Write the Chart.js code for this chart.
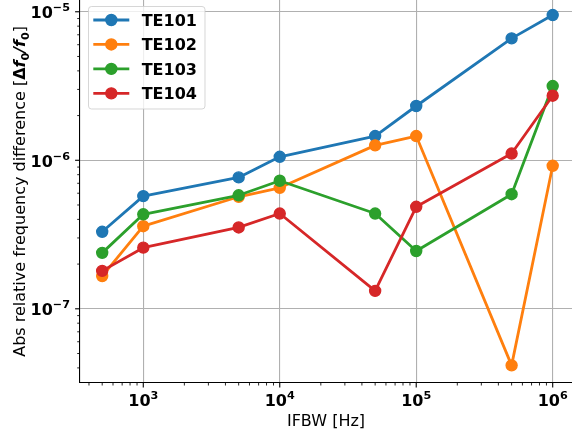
<!DOCTYPE html>
<html>
<head>
<meta charset="utf-8">
<title>Relative frequency difference vs IFBW</title>
<script src="https://cdn.jsdelivr.net/npm/chart.js@4.4.1/dist/chart.umd.min.js"></script>
<style>
  html, body { margin: 0; padding: 0; background: #fff; overflow: hidden; }
  #wrap { position: relative; width: 572px; height: 438px; }
</style>
</head>
<body>
<div id="wrap"><canvas id="freqChart" width="572" height="438"></canvas></div>
<script>
// IFBW settings in Hz
const ifbw = [500, 1000, 5000, 10000, 50000, 100000, 500000, 1000000];

// abs relative frequency difference per mode
const te101 = [3.30e-7, 5.74e-7, 7.67e-7, 1.056e-6, 1.456e-6, 2.32e-6, 6.62e-6, 9.5e-6];
const te102 = [1.66e-7, 3.60e-7, 5.68e-7, 6.53e-7, 1.26e-6, 1.456e-6, 4.16e-8, 9.18e-7];
const te103 = [2.38e-7, 4.33e-7, 5.81e-7, 7.28e-7, 4.38e-7, 2.45e-7, 5.91e-7, 3.16e-6];
const te104 = [1.80e-7, 2.58e-7, 3.53e-7, 4.38e-7, 1.32e-7, 4.86e-7, 1.11e-6, 2.72e-6];

const seriesNames = ['TE101', 'TE102', 'TE103', 'TE104'];
const seriesColors = ['#1f77b4', '#ff7f0e', '#2ca02c', '#d62728'];

// decade tick labels, drawn as 10^n
const xTickExponents = [3, 4, 5, 6];
const yTickExponents = [-7, -6, -5];

const FONT = 'DejaVu Sans';

function isDecade(v) {
    const l = Math.log10(v);
    return Math.abs(l - Math.round(l)) < 1e-9;
}

// 1..9 x 10^n inside [min, max]
function logTicks(min, max) {
    const out = [];
    for (let e = Math.floor(Math.log10(min)); e <= Math.ceil(Math.log10(max)); e++) {
        for (let m = 1; m <= 9; m++) {
            const v = m * Math.pow(10, e);
            if (v >= min && v <= max) out.push({ value: v });
        }
    }
    return out;
}

function drawPower(ctx, exp, x, y, align) {
    const base = '10';
    const sup = exp < 0 ? '\u2212' + Math.abs(exp) : String(exp);
    ctx.font = 'bold 16px ' + FONT;
    const wb = ctx.measureText(base).width;
    ctx.font = 'bold 11.2px ' + FONT;
    const ws = ctx.measureText(sup).width;
    const left = align === 'center' ? x - (wb + ws) / 2 : x - (wb + ws);
    ctx.textAlign = 'left';
    ctx.textBaseline = 'alphabetic';
    ctx.fillStyle = '#000';
    ctx.font = 'bold 16px ' + FONT;
    ctx.fillText(base, left, y);
    ctx.font = 'bold 11.2px ' + FONT;
    ctx.fillText(sup, left + wb, y - 7);
}

function drawYTitle(ctx, area) {
    const parts = [
        ['Abs relative frequency difference [', '16px', 0],
        ['\u0394', 'bold 16px', 0],
        ['f', 'italic bold 16px', 0],
        ['0', 'bold 11.2px', 3.5],
        ['/', 'italic bold 16px', 0],
        ['f', 'italic bold 16px', 0],
        ['0', 'bold 11.2px', 3.5],
        [']', '16px', 0]
    ];
    let total = 0;
    parts.forEach(p => {
        ctx.font = p[1] + ' ' + FONT;
        p.push(ctx.measureText(p[0]).width);
        total += p[3];
    });
    ctx.save();
    ctx.translate(25, (area.top + area.bottom) / 2);
    ctx.rotate(-Math.PI / 2);
    ctx.fillStyle = '#000';
    ctx.textAlign = 'left';
    ctx.textBaseline = 'alphabetic';
    let x = -total / 2;
    parts.forEach(p => {
        ctx.font = p[1] + ' ' + FONT;
        ctx.fillText(p[0], x, p[2]);
        x += p[3];
    });
    ctx.restore();
}

function drawLegend(ctx, chart) {
    ctx.save();
    ctx.beginPath();
    ctx.roundRect(88.5, 6.5, 116.5, 102.5, 3);
    ctx.fillStyle = 'rgba(255,255,255,0.8)';
    ctx.fill();
    ctx.strokeStyle = 'rgba(204,204,204,0.8)';
    ctx.lineWidth = 1;
    ctx.stroke();

    chart.data.datasets.forEach((ds, i) => {
        const cy = 20 + i * 24.45;
        ctx.strokeStyle = ds.borderColor;
        ctx.lineWidth = 2.8;
        ctx.beginPath();
        ctx.moveTo(93.3, cy);
        ctx.lineTo(129.3, cy);
        ctx.stroke();
        ctx.beginPath();
        ctx.arc(111.3, cy, 5.5, 0, Math.PI * 2);
        ctx.fillStyle = ds.borderColor;
        ctx.fill();
        ctx.lineWidth = 1.4;
        ctx.stroke();
        ctx.fillStyle = '#000';
        ctx.font = 'bold 16px ' + FONT;
        ctx.textAlign = 'left';
        ctx.textBaseline = 'alphabetic';
        ctx.fillText(ds.label, 141.7, cy + 5.9);
    });
    ctx.restore();
}

// tick marks, tick labels, y title and legend
const axisDecor = {
    id: 'axisDecor',
    afterDraw(chart) {
        const ctx = chart.ctx;
        const xs = chart.scales.x;
        const ys = chart.scales.y;
        const area = chart.chartArea;

        ctx.save();
        ctx.strokeStyle = '#000';
        xs.ticks.forEach(t => {
            const major = isDecade(t.value);
            const px = xs.getPixelForValue(t.value);
            ctx.lineWidth = major ? 1.1 : 0.85;
            ctx.beginPath();
            ctx.moveTo(px, area.bottom);
            ctx.lineTo(px, area.bottom + (major ? 4.9 : 2.8));
            ctx.stroke();
        });
        ys.ticks.forEach(t => {
            const major = isDecade(t.value);
            const py = ys.getPixelForValue(t.value);
            ctx.lineWidth = major ? 1.1 : 0.85;
            ctx.beginPath();
            ctx.moveTo(area.left, py);
            ctx.lineTo(area.left - (major ? 4.9 : 2.8), py);
            ctx.stroke();
        });
        ctx.restore();

        xTickExponents.forEach(e => {
            drawPower(ctx, e, xs.getPixelForValue(Math.pow(10, e)), area.bottom + 23.4, 'center');
        });
        yTickExponents.forEach(e => {
            drawPower(ctx, e, 70, ys.getPixelForValue(Math.pow(10, e)) + 6.4, 'right');
        });

        drawYTitle(ctx, area);
        drawLegend(ctx, chart);
    }
};

const seriesValues = [te101, te102, te103, te104];
const datasets = seriesValues.map((vals, i) => ({
    label: seriesNames[i],
    data: ifbw.map((x, j) => ({ x: x, y: vals[j] })),
    borderColor: seriesColors[i],
    backgroundColor: seriesColors[i],
    pointBackgroundColor: seriesColors[i],
    pointBorderColor: seriesColors[i],
    borderWidth: 2.8,
    pointRadius: 5.5,
    pointHoverRadius: 5.5,
    pointBorderWidth: 1.4,
    borderJoinStyle: 'round',
    tension: 0,
    fill: false,
    order: seriesValues.length - 1 - i   // later series on top, like matplotlib
}));

function gridColor(c) {
    return c.tick && isDecade(c.tick.value) ? '#b0b0b0' : 'rgba(0,0,0,0)';
}

new Chart(document.getElementById('freqChart'), {
    type: 'line',
    data: { datasets: datasets },
    plugins: [axisDecor],
    options: {
        responsive: false,
        animation: false,
        events: [],
        devicePixelRatio: 1,
        layout: { autoPadding: false, padding: { left: 0, right: 0, top: 0, bottom: 0 } },
        plugins: {
            legend: { display: false },
            tooltip: { enabled: false }
        },
        scales: {
            x: {
                type: 'logarithmic',
                min: 343.8,
                max: 1.385e6,
                bounds: 'data',
                afterBuildTicks: s => { s.ticks = logTicks(s.min, s.max); },
                afterFit: s => {
                    s.height = 55.3;
                    s.paddingLeft = 0;
                    s.paddingRight = 0;
                },
                ticks: { display: false },
                grid: { color: gridColor, lineWidth: 1.1, drawTicks: false },
                border: { display: true, color: '#000', width: 1.1 },
                title: {
                    display: true,
                    text: 'IFBW [Hz]',
                    color: '#000',
                    font: { family: FONT, size: 16 },
                    padding: { top: 0, bottom: 6.7 }
                }
            },
            y: {
                type: 'logarithmic',
                min: 3.18e-8,
                max: 1.2e-5,
                bounds: 'data',
                afterBuildTicks: s => { s.ticks = logTicks(s.min, s.max); },
                afterFit: s => {
                    s.width = 80;
                    s.paddingTop = 0;
                    s.paddingBottom = 0;
                },
                ticks: { display: false },
                grid: { color: gridColor, lineWidth: 1.1, drawTicks: false },
                border: { display: true, color: '#000', width: 1.1 }
            }
        }
    }
});
</script>
</body>
</html>
